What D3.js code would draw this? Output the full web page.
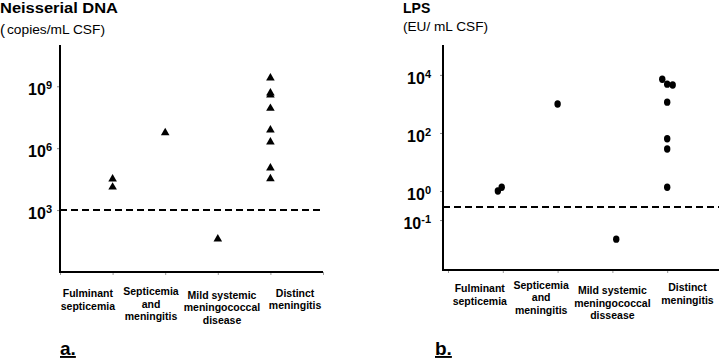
<!DOCTYPE html>
<html>
<head>
<meta charset="utf-8">
<script src="https://cdn.jsdelivr.net/npm/d3@7"></script>
<style>
    body { margin: 0; background: #fff; }
    svg { display: block; font-family: "Liberation Sans", Arial, sans-serif; }
</style>
</head>
<body>
<div class="graph"></div>
<script>
// categories (index 0..3) and the two-line / three-line labels under each panel
const categories = ['Fulminant septicemia', 'Septicemia and meningitis', 'Mild systemic meningococcal disease', 'Distinct meningitis'];
const dnaLabels = [['Fulminant', 'septicemia'], ['Septicemia', 'and', 'meningitis'], ['Mild systemic', 'meningococcal', 'disease'], ['Distinct', 'meningitis']];
const lpsLabels = [['Fulminant', 'septicemia'], ['Septicemia', 'and', 'meningitis'], ['Mild systemic', 'meningococcal', 'dissease'], ['Distinct', 'meningitis']];

// panel a: neisserial DNA, copies/mL CSF
const dnaGroup = [0, 0, 1, 2, 3, 3, 3, 3, 3, 3, 3, 3];
const dnaValues = [3.2e4, 1.3e4, 5.6e6, 40, 2.5e9, 4.7e8, 3.8e8, 8.5e7, 7.6e6, 2.0e6, 1.1e5, 3.3e4];
const dnaTicks = [3, 6, 9];          // exponents
const dnaCutoff = 1e3;

// panel b: LPS, EU/mL CSF
const lpsGroup = [0, 0, 1, 2, 3, 3, 3, 3, 3, 3, 3];
const lpsValues = [1.0, 1.35, 1000, 0.022, 7100, 4800, 4500, 1150, 63, 28, 1.35];
const lpsDodge = [-0.09, -0.02, 0, 0.07, -0.09, 0, 0.1, 0, 0, 0, 0];
const lpsTicks = [-1, 0, 2, 4];
const lpsCutoff = 0.28;

document.addEventListener('DOMContentLoaded', () => {
    const svgDim = { w: 719, h: 361 };
    const svg = d3.select('.graph').append('svg').attr('width', svgDim.w).attr('height', svgDim.h);

    // label centres (category units) and small vertical nudges, as laid out in the figure
    const labelPosA = [0.53, 1.73, 3.08, 4.47];
    const labelPosB = [0.58, 1.70, 3.00, 4.37];
    const labelDy = [0, -2, 1.5, -0.5];

    function panel(o) {
        const x = d3.scaleLinear().domain([0, 5]).range(o.xRange);
        const y = d3.scaleLog().domain(o.yDomain).range(o.yRange);
        const g = svg.append('g');

        // x ticks (thin grey)
        const xAxis = d3.axisBottom(x).tickValues([0, 1, 2, 3, 4, 5]).tickSize(3).tickFormat('');
        g.append('g').attr('transform', `translate(0,${o.yRange[0]})`).call(xAxis)
            .call(s => s.select('.domain').remove())
            .call(s => s.selectAll('.tick line').attr('stroke', '#999'));

        // y ticks
        const yAxis = d3.axisLeft(y).tickValues(o.ticks.map(t => Math.pow(10, t))).tickSize(3).tickFormat('');
        const ya = g.append('g').attr('transform', `translate(${o.axisX},0)`).call(yAxis);
        ya.select('.domain').remove();
        ya.selectAll('.tick line').attr('stroke', '#888');
        ya.selectAll('.tick').append('text')
            .attr('x', -o.labelGap).attr('y', 8.5)
            .attr('text-anchor', 'end').attr('fill', '#000')
            .style('font-size', '16px').style('font-weight', 'bold')
            .each(function (d) {
                const t = d3.select(this);
                t.append('tspan').text('10');
                t.append('tspan').attr('dy', -6).style('font-size', '11px').text(Math.round(Math.log10(d)));
            });

        // axis lines
        g.append('line').attr('x1', o.axisX).attr('x2', o.axisX)
            .attr('y1', o.yRange[1]).attr('y2', o.yRange[0] + 1)
            .attr('stroke', '#000').attr('stroke-width', 2);
        g.append('line').attr('x1', o.axisX - 1).attr('x2', o.xEnd)
            .attr('y1', o.yRange[0]).attr('y2', o.yRange[0])
            .attr('stroke', '#000').attr('stroke-width', 2);

        // cutoff
        g.append('line').attr('x1', o.axisX).attr('x2', o.dashEnd)
            .attr('y1', y(o.cutoff)).attr('y2', y(o.cutoff))
            .attr('stroke', '#000').attr('stroke-width', 2).attr('stroke-dasharray', '7,4');

        // category labels
        o.labels.forEach((lines, i) => {
            const t = g.append('text')
                .attr('text-anchor', 'middle')
                .attr('x', x(o.labelPos[i]))
                .attr('y', o.labelY + labelDy[i] * o.dyScale)
                .style('font-size', '10.5px').style('font-weight', 'bold');
            lines.forEach((l, j) => {
                t.append('tspan').attr('x', x(o.labelPos[i])).attr('dy', j ? 12.5 : 0).text(l);
            });
        });
        return { x, y, g };
    }

    // ---- panel a
    const a = panel({
        xRange: [60, 323], xEnd: 323, axisX: 60, labelGap: 8,
        yDomain: [1, 1e11], yRange: [272, 45], ticks: dnaTicks,
        cutoff: dnaCutoff, dashEnd: 320,
        labels: dnaLabels, labelPos: labelPosA, labelY: 297, dyScale: 1
    });
    a.g.selectAll('path.pt')
        .data(dnaValues)
        .enter()
        .append('path')
        .attr('class', 'pt')
        .attr('d', d3.symbol(d3.symbolTriangle).size(32))
        .attr('transform', (d, i) => `translate(${a.x(dnaGroup[i] + 1)},${a.y(d)})`)
        .attr('fill', '#000');

    // ---- panel b
    const b = panel({
        xRange: [448, 722], xEnd: 719, axisX: 443, labelGap: 12,
        yDomain: [Math.pow(10, -2.72), Math.pow(10, 5.03)], yRange: [270, 45], ticks: lpsTicks,
        cutoff: lpsCutoff, dashEnd: 719,
        labels: lpsLabels, labelPos: labelPosB, labelY: 292, dyScale: 1.6
    });
    b.g.selectAll('ellipse')
        .data(lpsValues)
        .enter()
        .append('ellipse')
        .attr('cx', (d, i) => b.x(lpsGroup[i] + 1 + lpsDodge[i]))
        .attr('cy', d => b.y(d))
        .attr('rx', 3.2)
        .attr('ry', 3.7)
        .attr('fill', '#000');

    // titles
    svg.append('text').attr('x', 0).attr('y', 13)
        .attr('textLength', 118).attr('lengthAdjust', 'spacingAndGlyphs')
        .style('font-size', '14px').style('font-weight', 'bold').text('Neisserial DNA');
    svg.append('text').attr('x', 0).attr('y', 35).style('font-size', '15px').text('(');
    svg.append('text').attr('x', 7).attr('y', 34)
        .attr('textLength', 98).attr('lengthAdjust', 'spacingAndGlyphs')
        .style('font-size', '12px').text('copies/mL CSF)');

    svg.append('text').attr('x', 403).attr('y', 13)
        .style('font-size', '14px').style('font-weight', 'bold').text('LPS');
    svg.append('text').attr('x', 403).attr('y', 31)
        .attr('textLength', 85).attr('lengthAdjust', 'spacingAndGlyphs')
        .style('font-size', '12px').text('(EU/ mL CSF)');

    // panel letters
    [['a.', 60], ['b.', 435]].forEach(([s, px]) => {
        svg.append('text').attr('x', px).attr('y', 355)
            .style('font-size', '19px').style('font-weight', 'bold')
            .style('text-decoration', 'underline').text(s);
    });
});
</script>
</body>
</html>
